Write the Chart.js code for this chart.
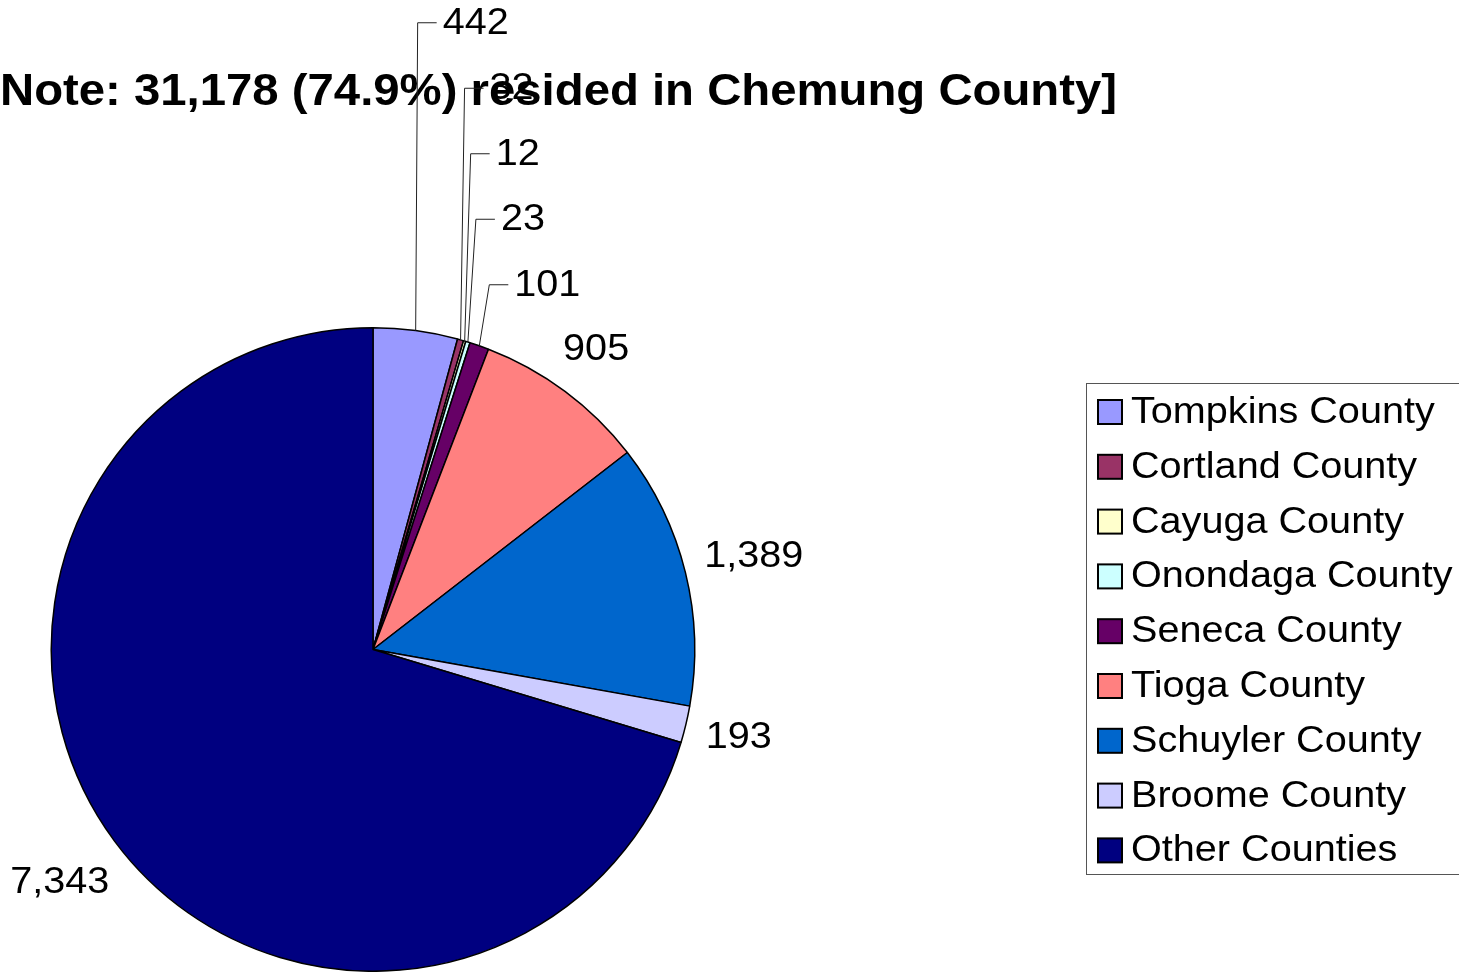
<!DOCTYPE html>
<html lang="en">
<head>
  <meta charset="UTF-8">
  <title>Residence of workers</title>
  <script src="https://cdn.jsdelivr.net/npm/chart.js"></script>
  <style>
    body { margin: 0; background: #fff; }
    .chart-container { position: relative; width: 1459px; height: 972px; }
  </style>
</head>
<body>
<div class="chart-container">
  <canvas id="pieChart"></canvas>
</div>

<script>
  const counties = ['Tompkins County', 'Cortland County', 'Cayuga County', 'Onondaga County',
    'Seneca County', 'Tioga County', 'Schuyler County', 'Broome County', 'Other Counties'];
  const residents = [442, 32, 12, 23, 101, 905, 1389, 193, 7343];
  const valueLabels = ['442', '32', '12', '23', '101', '905', '1,389', '193', '7,343'];
  const sliceColors = ['#9999FF', '#993366', '#FFFFCC', '#CCFFFF', '#660066',
    '#FF8080', '#0066CC', '#CCCCFF', '#000080'];
  const titleText = 'Note: 31,178 (74.9%) resided in Chemung County]';

  const FONT = '"Liberation Sans", Arial, sans-serif';
  const STRETCH = 1.1;    // the source's text is a little wider than Liberation Sans
  const smallSlices = 5;  // first slices get stacked leader-line labels

  // draw text stretched horizontally, x is the anchor for the given align
  function wideText(ctx, txt, x, y, align, sx) {
    const w = ctx.measureText(txt).width * sx;
    let left = x;
    if (align === 'center') left = x - w / 2;
    ctx.save();
    ctx.translate(left, y);
    ctx.scale(sx, 1);
    ctx.textAlign = 'left';
    ctx.fillText(txt, 0, 0);
    ctx.restore();
    return w;
  }

  // title, drawn under the pie labels
  const titlePlugin = {
    id: 'noteTitle',
    beforeDatasetsDraw(chart) {
      const ctx = chart.ctx;
      ctx.save();
      ctx.font = 'bold 44px ' + FONT;
      ctx.fillStyle = '#000';
      ctx.textBaseline = 'alphabetic';
      wideText(ctx, titleText, 0, 105, 'left', 1.075);
      ctx.restore();
    }
  };

  // value labels outside the pie, with leader lines for the thin slices
  const labelPlugin = {
    id: 'valueLabels',
    afterDatasetsDraw(chart) {
      const ctx = chart.ctx;
      const arcs = chart.getDatasetMeta(0).data;
      ctx.save();
      ctx.font = '36px ' + FONT;
      ctx.fillStyle = '#000';
      ctx.textBaseline = 'middle';
      arcs.forEach((arc, i) => {
        const mid = (arc.startAngle + arc.endAngle) / 2;
        const r = arc.outerRadius;
        const ex = arc.x + r * Math.cos(mid);
        const ey = arc.y + r * Math.sin(mid);
        const txt = valueLabels[i];
        const w = ctx.measureText(txt).width * STRETCH;
        if (i < smallSlices) {
          const top = arc.y - r;
          const ly = top - 43 - (smallSlices - 1 - i) * 65.5;
          const cx = ex + (i + 1) * 2;
          ctx.strokeStyle = '#222';
          ctx.lineWidth = 1;
          ctx.beginPath();
          ctx.moveTo(ex, ey);
          ctx.lineTo(cx, ly);
          ctx.lineTo(cx + 19, ly);
          ctx.stroke();
          wideText(ctx, txt, cx + 25, ly + 1, 'left', STRETCH);
        } else {
          const hw = w / 2, hh = 18, gap = 18;
          const s = Math.cos(mid), c = Math.sin(mid);
          const d = r + hw * Math.abs(s) + hh * Math.abs(c) + gap;
          wideText(ctx, txt, arc.x + d * s, arc.y + d * c + 1, 'center', STRETCH);
        }
      });
      ctx.restore();
    }
  };

  // boxed legend at the right
  const legendPlugin = {
    id: 'boxLegend',
    afterDraw(chart) {
      const ctx = chart.ctx;
      ctx.save();
      ctx.strokeStyle = '#555';
      ctx.lineWidth = 1;
      ctx.strokeRect(1086.5, 383.5, 380, 491);
      ctx.font = '36px ' + FONT;
      ctx.textBaseline = 'middle';
      counties.forEach((name, i) => {
        const y = 412 + i * 54.8;
        ctx.fillStyle = sliceColors[i];
        ctx.fillRect(1098, y - 12, 24, 24);
        ctx.strokeStyle = '#000';
        ctx.lineWidth = 2;
        ctx.strokeRect(1098, y - 12, 24, 24);
        ctx.fillStyle = '#000';
        wideText(ctx, name, 1131, y + 1, 'left', STRETCH);
      });
      ctx.restore();
    }
  };

  const ctx = document.getElementById('pieChart').getContext('2d');
  new Chart(ctx, {
    type: 'pie',
    data: {
      labels: counties,
      datasets: [{
        data: residents,
        backgroundColor: sliceColors,
        borderColor: '#000',
        borderWidth: 1.5
      }]
    },
    options: {
      responsive: true,
      maintainAspectRatio: false,
      animation: false,
      layout: { padding: { left: 50, right: 763, top: 327, bottom: 0 } },
      plugins: {
        legend: { display: false },
        tooltip: { enabled: false }
      }
    },
    plugins: [titlePlugin, labelPlugin, legendPlugin]
  });
</script>
</body>
</html>
